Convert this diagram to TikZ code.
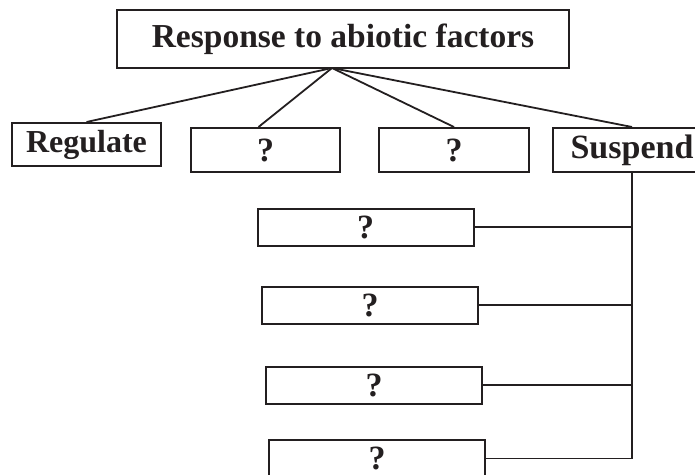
\documentclass[tikz,border=0pt]{standalone}
\usepackage{fontspec}
\setmainfont{Liberation Serif}
\definecolor{ink}{HTML}{231F20}
\begin{document}
\begin{tikzpicture}[x=1pt,y=-1pt,
  box/.style={draw=ink, text=ink, line width=2pt, rectangle, inner sep=0pt, font=\bfseries\fontsize{32}{34}\selectfont},
  qbox/.style={box, minimum width=216pt, minimum height=37pt, font=\bfseries\fontsize{34}{36}\selectfont},
  conn/.style={draw=ink, line width=1.8pt}]
\useasboundingbox[clip] (0,0) rectangle (695,474);
\node[box, minimum width=452pt, minimum height=58pt, font=\bfseries\fontsize{33.5}{35}\selectfont] (top) at (343,39) {Response to abiotic factors};
\node[box, minimum width=149pt, minimum height=43pt] (reg) at (86.5,144.5) {Regulate};
\node[box, minimum width=149pt, minimum height=44pt, font=\bfseries\fontsize{34}{36}\selectfont] (q1) at (265.5,150) {?};
\node[box, minimum width=150pt, minimum height=44pt, font=\bfseries\fontsize{34}{36}\selectfont] (q2) at (454,150) {?};
\node[box, minimum width=158pt, minimum height=44pt, font=\bfseries\fontsize{34}{36}\selectfont] (susp) at (632,150) {Suspend};
\node[qbox] (qa) at (365.5,227) {?};
\node[qbox] (qb) at (370,305) {?};
\node[qbox] (qc) at (374,385) {?};
\node[qbox] (qd) at (377,458.5) {?};
\coordinate (apex) at (332,68);
\draw[conn] (apex) -- (reg.north);
\draw[conn] (apex) -- ([xshift=-7pt]q1.north);
\draw[conn] (apex) -- (q2.north);
\draw[conn] (apex) -- (susp.north);
\draw[conn] (susp.south) -- (susp.south |- qd.east);
\foreach \n in {qa,qb,qc,qd} \draw[conn] (\n.east) -- (\n.east -| susp.south);
\end{tikzpicture}
\end{document}
